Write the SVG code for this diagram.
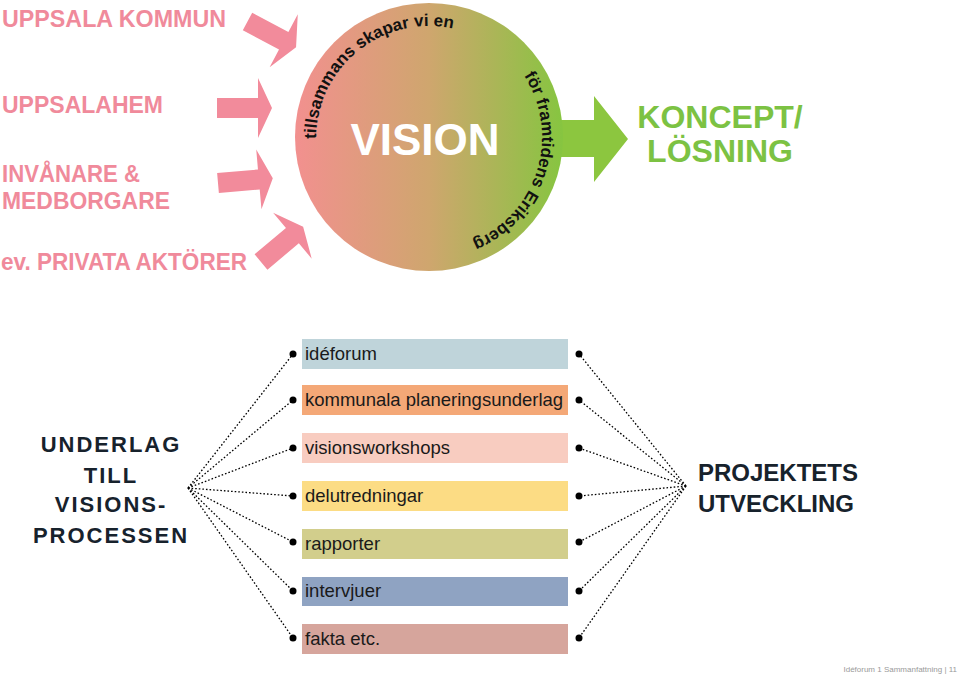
<svg xmlns="http://www.w3.org/2000/svg" width="960" height="676" viewBox="0 0 960 676">
<style>
.pink{fill:#f08a9b;font-family:"Liberation Sans",Arial,sans-serif;font-weight:bold;font-size:24px}
.green{fill:#7cc243;font-family:"Liberation Sans",Arial,sans-serif;font-weight:bold;font-size:32px;text-anchor:middle}
.arc{fill:#111;font-family:"Liberation Sans",Arial,sans-serif;font-weight:bold;font-size:17px}
.head{fill:#17222c;font-family:"Liberation Sans",Arial,sans-serif;font-weight:bold;font-size:22px;letter-spacing:2px}
.head2{fill:#17222c;font-family:"Liberation Sans",Arial,sans-serif;font-weight:bold;font-size:24px}
.bar text{fill:#1a1a1a;font-family:"Liberation Sans",Arial,sans-serif;font-size:18.5px}
.dot{fill:#000}
.dl{stroke:#000;stroke-width:1.3;stroke-dasharray:1.6 2;fill:none}
.parr{fill:#f28b9b}
</style>
<defs>
<linearGradient id="vg" x1="295" y1="0" x2="563" y2="0" gradientUnits="userSpaceOnUse">
<stop offset="0" stop-color="#f2908f"/>
<stop offset="0.5" stop-color="#cfa66e"/>
<stop offset="1" stop-color="#86c540"/>
</linearGradient>
<polygon id="ar" points="0,-10 41,-10 41,-30 55,0 41,30 41,10 0,10"/>
<path id="arc1" d="M 316 139 A 113 113 0 0 1 542 139"/>
<path id="arc2" d="M 515.6 64.4 A 113 113 0 0 1 390.4 243.2"/>
</defs>

<g id="connectors">
<use href="#ar" class="parr" transform="translate(247.5,21.5) rotate(28)"/>
<use href="#ar" class="parr" transform="translate(217,108)"/>
<use href="#ar" class="parr" transform="translate(218,183) rotate(-5)"/>
<use href="#ar" class="parr" transform="translate(261,262) rotate(-40)"/>
<polygon fill="#8cc63f" points="540,120 594,120 594,96 628,139 594,182 594,157 540,157"/>
<line class="dl" x1="188" y1="488" x2="293" y2="354"/>
<line class="dl" x1="188" y1="488" x2="293" y2="400"/>
<line class="dl" x1="188" y1="488" x2="293" y2="448"/>
<line class="dl" x1="188" y1="488" x2="293" y2="496"/>
<line class="dl" x1="188" y1="488" x2="293" y2="542"/>
<line class="dl" x1="188" y1="488" x2="293" y2="591"/>
<line class="dl" x1="188" y1="488" x2="293" y2="638"/>
<line class="dl" x1="686" y1="486" x2="579" y2="354"/>
<line class="dl" x1="686" y1="486" x2="579" y2="400"/>
<line class="dl" x1="686" y1="486" x2="579" y2="448"/>
<line class="dl" x1="686" y1="486" x2="579" y2="496"/>
<line class="dl" x1="686" y1="486" x2="579" y2="542"/>
<line class="dl" x1="686" y1="486" x2="579" y2="591"/>
<line class="dl" x1="686" y1="486" x2="579" y2="638"/>
</g>

<g id="uppsala-kommun"><text class="pink" x="2" y="27" textLength="224" lengthAdjust="spacingAndGlyphs">UPPSALA KOMMUN</text></g>
<g id="uppsalahem"><text class="pink" x="2" y="113" textLength="161" lengthAdjust="spacingAndGlyphs">UPPSALAHEM</text></g>
<g id="invanare"><text class="pink" x="2" y="182" textLength="138" lengthAdjust="spacingAndGlyphs">INVÅNARE &amp;</text><text class="pink" x="2" y="209" textLength="168" lengthAdjust="spacingAndGlyphs">MEDBORGARE</text></g>
<g id="privata"><text class="pink" x="1" y="270" textLength="246" lengthAdjust="spacingAndGlyphs">ev. PRIVATA AKTÖRER</text></g>

<g id="vision">
<circle cx="429" cy="137" r="134" fill="url(#vg)"/>
<text x="425" y="155" fill="#fff" font-family="'Liberation Sans',Arial,sans-serif" font-weight="bold" font-size="44" text-anchor="middle">VISION</text>
<text class="arc"><textPath href="#arc1" startOffset="0">tillsammans skapar vi en</textPath></text>
<text class="arc"><textPath href="#arc2" startOffset="14">för framtidens Eriksberg</textPath></text>
</g>

<g id="koncept">
<text class="green" x="720" y="128">KONCEPT/</text>
<text class="green" x="720" y="162">LÖSNING</text>
</g>

<g id="underlag">
<text class="head" x="111" y="452" text-anchor="middle">UNDERLAG</text>
<text class="head" x="111" y="483" text-anchor="middle">TILL</text>
<text class="head" x="111" y="512" text-anchor="middle">VISIONS-</text>
<text class="head" x="111" y="543" text-anchor="middle">PROCESSEN</text>
</g>

<g id="projektets">
<text class="head2" x="698" y="481">PROJEKTETS</text>
<text class="head2" x="698" y="512">UTVECKLING</text>
</g>

<g id="ideforum" class="bar"><rect x="302" y="339" width="266" height="30" fill="#bfd4da"/><text x="305" y="360">idéforum</text><circle class="dot" cx="293" cy="354" r="3.5"/><circle class="dot" cx="579" cy="354" r="3.5"/></g>
<g id="kommunala" class="bar"><rect x="302" y="385" width="266" height="30" fill="#f4a877"/><text x="305" y="406">kommunala planeringsunderlag</text><circle class="dot" cx="293" cy="400" r="3.5"/><circle class="dot" cx="579" cy="400" r="3.5"/></g>
<g id="visionsworkshops" class="bar"><rect x="302" y="433" width="266" height="30" fill="#f8ccc0"/><text x="305" y="454">visionsworkshops</text><circle class="dot" cx="293" cy="448" r="3.5"/><circle class="dot" cx="579" cy="448" r="3.5"/></g>
<g id="delutredningar" class="bar"><rect x="302" y="481" width="266" height="30" fill="#fcdc84"/><text x="305" y="502">delutredningar</text><circle class="dot" cx="293" cy="496" r="3.5"/><circle class="dot" cx="579" cy="496" r="3.5"/></g>
<g id="rapporter" class="bar"><rect x="302" y="529" width="266" height="30" fill="#d2ce8c"/><text x="305" y="550">rapporter</text><circle class="dot" cx="293" cy="542" r="3.5"/><circle class="dot" cx="579" cy="542" r="3.5"/></g>
<g id="intervjuer" class="bar"><rect x="302" y="577" width="266" height="29" fill="#8fa3c2"/><text x="305" y="597">intervjuer</text><circle class="dot" cx="293" cy="591" r="3.5"/><circle class="dot" cx="579" cy="591" r="3.5"/></g>
<g id="fakta" class="bar"><rect x="302" y="624" width="266" height="30" fill="#d6a59c"/><text x="305" y="645">fakta etc.</text><circle class="dot" cx="293" cy="638" r="3.5"/><circle class="dot" cx="579" cy="638" r="3.5"/></g>

<g id="footer"><text x="957" y="672" fill="#9a9a9a" font-family="'Liberation Sans',Arial,sans-serif" font-size="8" text-anchor="end">Idéforum 1 Sammanfattning | 11</text></g>
</svg>
